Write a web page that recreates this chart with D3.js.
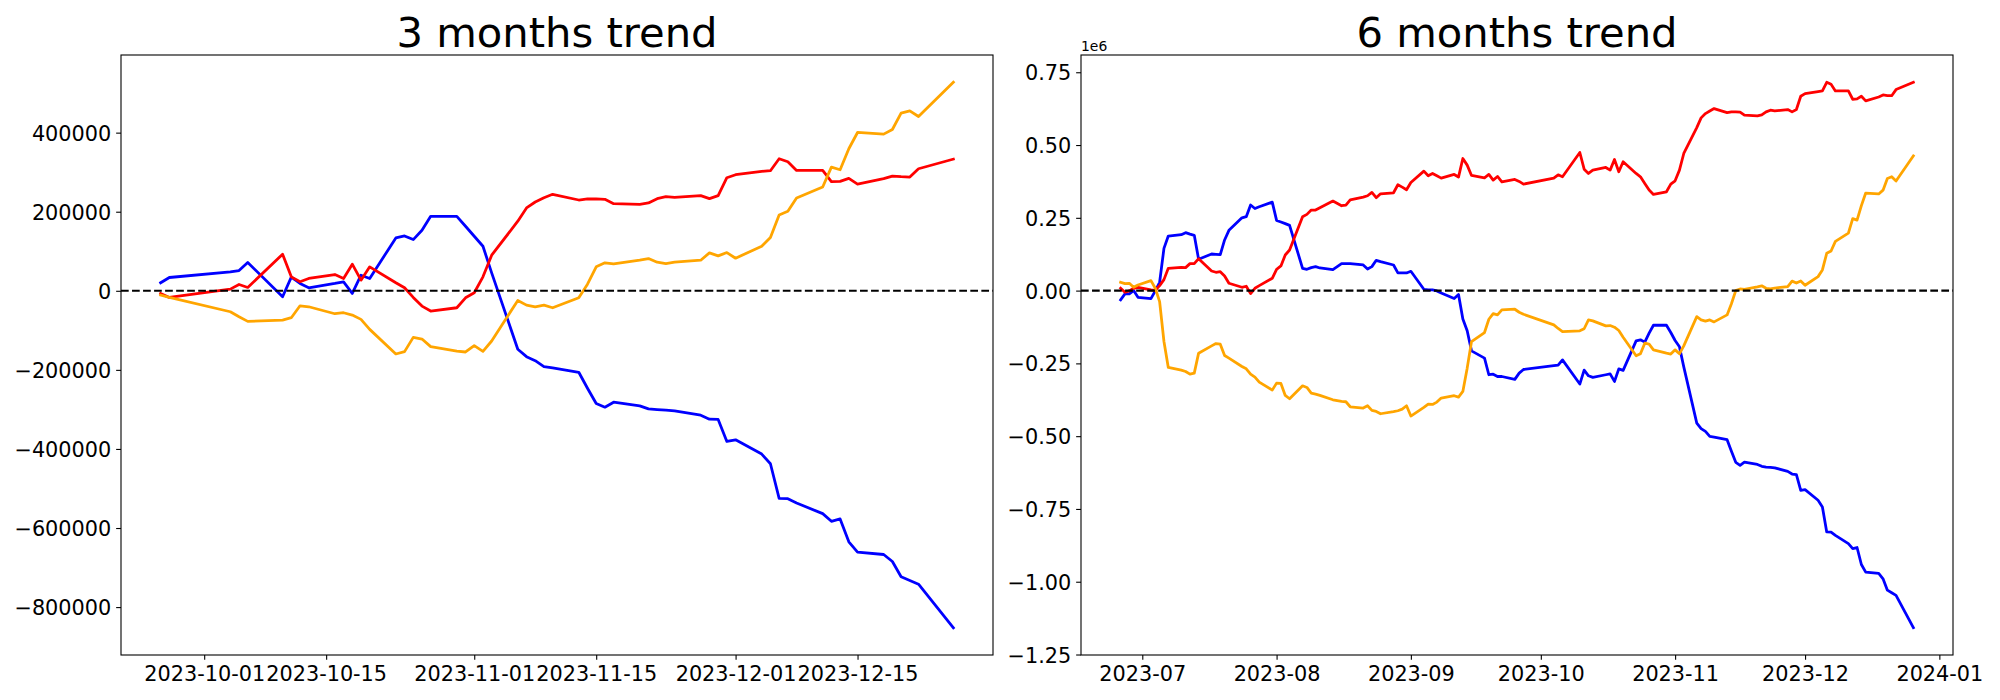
<!DOCTYPE html>
<html>
<head>
<meta charset="utf-8">
<script src="https://cdn.jsdelivr.net/npm/d3@7"></script>
<style>
  body { margin: 0; background: #fff; }
  svg { display: block; font-family: "DejaVu Sans", sans-serif; }
</style>
</head>
<body>
<svg id="chart" width="2000" height="700"></svg>
<script>
// ---- 3 months data (trading days) ----
const trend3Dates = ["2023-09-26","2023-09-27","2023-10-04","2023-10-05","2023-10-06","2023-10-10","2023-10-11","2023-10-12","2023-10-13","2023-10-16","2023-10-17","2023-10-18","2023-10-19","2023-10-20","2023-10-23","2023-10-24","2023-10-25","2023-10-26","2023-10-27","2023-10-30","2023-10-31","2023-11-01","2023-11-02","2023-11-03","2023-11-06","2023-11-07","2023-11-08","2023-11-09","2023-11-10","2023-11-13","2023-11-14","2023-11-15","2023-11-16","2023-11-17","2023-11-20","2023-11-21","2023-11-22","2023-11-23","2023-11-24","2023-11-27","2023-11-28","2023-11-29","2023-11-30","2023-12-01","2023-12-04","2023-12-05","2023-12-06","2023-12-07","2023-12-08","2023-12-11","2023-12-12","2023-12-13","2023-12-14","2023-12-15","2023-12-18","2023-12-19","2023-12-20","2023-12-21","2023-12-22","2023-12-26"];
const trend3Blue = [20200,33600,48000,51300,71500,-15100,34500,18500,7600,18500,22700,-6700,39500,31100,133700,138800,129500,153000,188400,188400,163200,138000,112700,45400,-148000,-166600,-176700,-191800,-195200,-206100,-246500,-285200,-294400,-281800,-291000,-298600,-300300,-302000,-303700,-314600,-324700,-325500,-381000,-376900,-413000,-437400,-524900,-525800,-536700,-563600,-583000,-577000,-635000,-661200,-667000,-684800,-723400,-732700,-742000,-852200];
const trend3Red = [-6700,-16800,4200,16000,8400,92500,35300,22700,31100,41200,31100,67300,26900,60600,20200,7600,-16800,-38700,-51300,-42900,-17700,-5000,35300,90000,176000,209500,224600,235500,244000,229600,232200,232200,231300,220400,218700,222100,233000,238000,236400,240600,233000,240600,286000,293600,302000,303700,334000,326400,304500,304500,275900,276800,284300,270000,283500,290200,288500,287700,308700,333100];
const trend3Orange = [-10900,-16800,-53000,-65600,-77400,-74000,-68100,-37900,-40400,-58000,-55500,-61400,-72300,-97600,-159800,-153900,-117800,-122000,-141300,-152300,-154800,-138800,-153100,-127000,-24400,-36200,-40400,-36200,-42900,-17700,16800,60600,70700,68100,77400,81600,72300,69000,72300,77400,95900,88300,96700,82400,112700,134600,191800,201000,234700,262500,312900,306200,359200,400400,396200,408000,449200,455100,440800,527400];

// ---- 6 months data (trading days) ----
const trend6Dates = ["2023-06-26","2023-06-27","2023-06-28","2023-06-29","2023-06-30",
  "2023-07-03","2023-07-04","2023-07-05","2023-07-06","2023-07-07","2023-07-10","2023-07-11","2023-07-12","2023-07-13","2023-07-14","2023-07-17","2023-07-18","2023-07-19","2023-07-20","2023-07-21","2023-07-24","2023-07-25","2023-07-26","2023-07-27","2023-07-28","2023-07-31",
  "2023-08-01","2023-08-02","2023-08-03","2023-08-04","2023-08-07","2023-08-08","2023-08-09","2023-08-10","2023-08-11","2023-08-14","2023-08-16","2023-08-17","2023-08-18","2023-08-21","2023-08-22","2023-08-23","2023-08-24","2023-08-25","2023-08-28","2023-08-29","2023-08-30","2023-08-31",
  "2023-09-01","2023-09-04","2023-09-05","2023-09-06","2023-09-07","2023-09-08","2023-09-11","2023-09-12","2023-09-13","2023-09-14","2023-09-15","2023-09-18","2023-09-19","2023-09-20","2023-09-21","2023-09-22","2023-09-25","2023-09-26","2023-09-27",
  "2023-10-04","2023-10-05","2023-10-06","2023-10-10","2023-10-11","2023-10-12","2023-10-13","2023-10-16","2023-10-17","2023-10-18","2023-10-19","2023-10-20","2023-10-23","2023-10-24","2023-10-25","2023-10-26","2023-10-27","2023-10-30","2023-10-31",
  "2023-11-01","2023-11-02","2023-11-03","2023-11-06","2023-11-07","2023-11-08","2023-11-09","2023-11-10","2023-11-13","2023-11-14","2023-11-15","2023-11-16","2023-11-17","2023-11-20","2023-11-21","2023-11-22","2023-11-23","2023-11-24","2023-11-27","2023-11-28","2023-11-29","2023-11-30",
  "2023-12-01","2023-12-04","2023-12-05","2023-12-06","2023-12-07","2023-12-08","2023-12-11","2023-12-12","2023-12-13","2023-12-14","2023-12-15","2023-12-18","2023-12-19","2023-12-20","2023-12-21","2023-12-22","2023-12-26"];
const trend6Blue = [-32000,-11400,-11400,0,-22900,
  -27400,-1000,28600,145000,187500,192000,199000,194000,190000,107500,125700,124600,123500,174000,207000,250000,254000,294000,282000,288000,304000,
  241000,235500,230000,224000,76600,73200,79000,82300,77700,72000,92600,92600,92600,88000,74300,82300,104000,99500,88000,60600,60600,60600,
  66300,4600,2300,2300,-1000,-8000,-27400,-13700,-97200,-138000,-207000,-232000,-289000,-287000,-295000,-295000,-305000,-283500,-271000,
  -258000,-256000,-238000,-321000,-273000,-292600,-298000,-289000,-286000,-312000,-269000,-274000,-172600,-169000,-177000,-146000,-119000,-119000,-144000,
  -171500,-193000,-262000,-455000,-474000,-483500,-501000,-503000,-512000,-552000,-590000,-600000,-589000,-597000,-603500,-606000,-607000,-609000,-621000,-630000,-632000,-686000,
  -683600,-720000,-743000,-829000,-830000,-841000,-869000,-886000,-882500,-940800,-967000,-971600,-990000,-1029000,-1038000,-1047000,-1158000];
const trend6Red = [8000,-5700,-1000,8000,11400,
  2300,1000,17000,37700,76600,80000,79000,92600,92600,109700,67400,62900,65000,50300,25100,11400,14900,-10300,8000,17000,42300,
  73200,84600,122300,139500,253800,261800,276600,276600,284600,307500,291500,293800,312000,321200,325800,337200,319000,332600,336000,363500,355500,346400,
  371500,410400,394400,402400,394400,386400,399000,390000,453800,431000,395500,387500,399000,379500,392000,373800,381800,375000,365800,
  386400,397800,391000,474400,417200,402400,413800,423000,413800,450400,408100,442400,402400,391000,368000,345200,330400,339500,365800,
  377200,413800,471000,560000,593300,608000,617000,625300,611600,614000,614000,612700,602400,600000,603600,614000,619600,617000,622000,614000,622000,667600,
  676700,683600,685900,715600,708700,685900,685900,657300,658400,667600,651600,665000,672000,670000,669500,690500,715600];
const trend6Orange = [28600,24000,25100,11400,19400,
  34300,8000,-37700,-174900,-264000,-273200,-277800,-287000,-283500,-214900,-189800,-181800,-184000,-222900,-232000,-260600,-268600,-287000,-297000,-314400,-341800,
  -317800,-319000,-360000,-371500,-327000,-332600,-352000,-355500,-360000,-375000,-380700,-381800,-399000,-403500,-395500,-411500,-415000,-423000,-416000,-412700,-407000,-395500,
  -431000,-401200,-390000,-391000,-383000,-369000,-361000,-365800,-346400,-266300,-174900,-144000,-98300,-78900,-83400,-66300,-64000,-74300,-81200,
  -117700,-130000,-140600,-138300,-131000,-100600,-104000,-121200,-120000,-125700,-137000,-160000,-224000,-217000,-180600,-184000,-203500,-215000,-218000,
  -203500,-217000,-190000,-89200,-100600,-105000,-100600,-107500,-83400,-45000,0,5500,4600,13000,16500,8000,6000,8800,13500,32500,26000,33000,
  18300,48000,70900,128000,136000,169000,197500,247000,242300,292000,335000,332000,345000,385000,391000,376500,462500];

// ---- axis ticks ----
const ticks3X = ["2023-10-01","2023-10-15","2023-11-01","2023-11-15","2023-12-01","2023-12-15"];
const ticks3XLabels = ["2023-10-01","2023-10-15","2023-11-01","2023-11-15","2023-12-01","2023-12-15"];
const ticks3Y = [400000,200000,0,-200000,-400000,-600000,-800000];
const ticks3YLabels = ["400000","200000","0","\u2212200000","\u2212400000","\u2212600000","\u2212800000"];
const ticks6X = ["2023-07-01","2023-08-01","2023-09-01","2023-10-01","2023-11-01","2023-12-01","2024-01-01"];
const ticks6XLabels = ["2023-07","2023-08","2023-09","2023-10","2023-11","2023-12","2024-01"];
const ticks6Y = [750000,500000,250000,0,-250000,-500000,-750000,-1000000,-1250000];
const ticks6YLabels = ["0.75","0.50","0.25","0.00","\u22120.25","\u22120.50","\u22120.75","\u22121.00","\u22121.25"];

const parse = d3.timeParse("%Y-%m-%d");
const svg = d3.select("#chart");

let plotTop = 55, plotBottom = 655;
let panels = [
  {title: "3 months trend", left: 121, right: 993, dates: trend3Dates,
   series: [[trend3Blue, "blue"], [trend3Red, "red"], [trend3Orange, "orange"]],
   xt: ticks3X, xl: ticks3XLabels, yt: ticks3Y, yl: ticks3YLabels, offset: null},
  {title: "6 months trend", left: 1081, right: 1953, dates: trend6Dates,
   series: [[trend6Blue, "blue"], [trend6Red, "red"], [trend6Orange, "orange"]],
   xt: ticks6X, xl: ticks6XLabels, yt: ticks6Y, yl: ticks6YLabels, offset: "1e6"}
];

function padded(ext) {
  let p = (ext[1] - ext[0]) * 0.05;
  return [ext[0] - p, ext[1] + p];
}

panels.forEach(function(p) {
  let dates = p.dates.map(parse);
  let xExt = d3.extent(dates).map(d => +d);
  let x = d3.scaleTime().domain(padded(xExt).map(v => new Date(v))).range([p.left, p.right]);
  let allVals = [].concat(...p.series.map(s => s[0]));
  let y = d3.scaleLinear().domain(padded(d3.extent(allVals))).range([plotBottom, plotTop]);

  let g = svg.append("g");

  // lines
  p.series.forEach(function(s) {
    let line = d3.line()
      .x((d, i) => x(dates[i]))
      .y(d => y(d));
    g.append("path")
      .datum(s[0])
      .attr("d", line)
      .attr("fill", "none")
      .attr("stroke", s[1])
      .attr("stroke-width", 2.78)
      .attr("stroke-linejoin", "round")
      .attr("stroke-linecap", "square");
  });

  // zero line
  g.append("line")
    .attr("x1", p.left).attr("x2", p.right)
    .attr("y1", y(0)).attr("y2", y(0))
    .attr("stroke", "black")
    .attr("stroke-width", 2.08)
    .attr("stroke-dasharray", "7.7 3.33");

  // axes
  let xAxis = d3.axisBottom(x)
    .tickValues(p.xt.map(parse))
    .tickFormat((d, i) => p.xl[i])
    .tickSizeInner(4.86).tickSizeOuter(0).tickPadding(4.86);
  let yAxis = d3.axisLeft(y)
    .tickValues(p.yt)
    .tickFormat((d, i) => p.yl[i])
    .tickSizeInner(4.86).tickSizeOuter(0).tickPadding(4.86);

  let gx = g.append("g")
    .attr("transform", "translate(0," + plotBottom + ")")
    .call(xAxis);
  let gy = g.append("g")
    .attr("transform", "translate(" + p.left + ",0)")
    .call(yAxis);

  [gx, gy].forEach(function(a) {
    a.select(".domain").remove();
    a.selectAll(".tick line").attr("stroke", "black").attr("stroke-width", 1.1);
    a.selectAll(".tick text")
      .attr("fill", "black")
      .style("font-family", "DejaVu Sans")
      .style("font-size", "20.8px");
  });
  gx.selectAll(".tick text").attr("dy", null).attr("y", 25.5);
  gy.selectAll(".tick text").attr("dy", "0.36em");

  // frame
  g.append("rect")
    .attr("x", p.left).attr("y", plotTop)
    .attr("width", p.right - p.left).attr("height", plotBottom - plotTop)
    .attr("fill", "none").attr("stroke", "black").attr("stroke-width", 1.1);

  // title
  g.append("text")
    .attr("x", (p.left + p.right) / 2)
    .attr("y", plotTop - 8.3)
    .attr("text-anchor", "middle")
    .style("font-size", "41.7px")
    .text(p.title);

  if (p.offset) {
    g.append("text")
      .attr("x", p.left)
      .attr("y", plotTop - 4)
      .style("font-size", "13.9px")
      .text(p.offset);
  }
});
</script>
</body>
</html>
